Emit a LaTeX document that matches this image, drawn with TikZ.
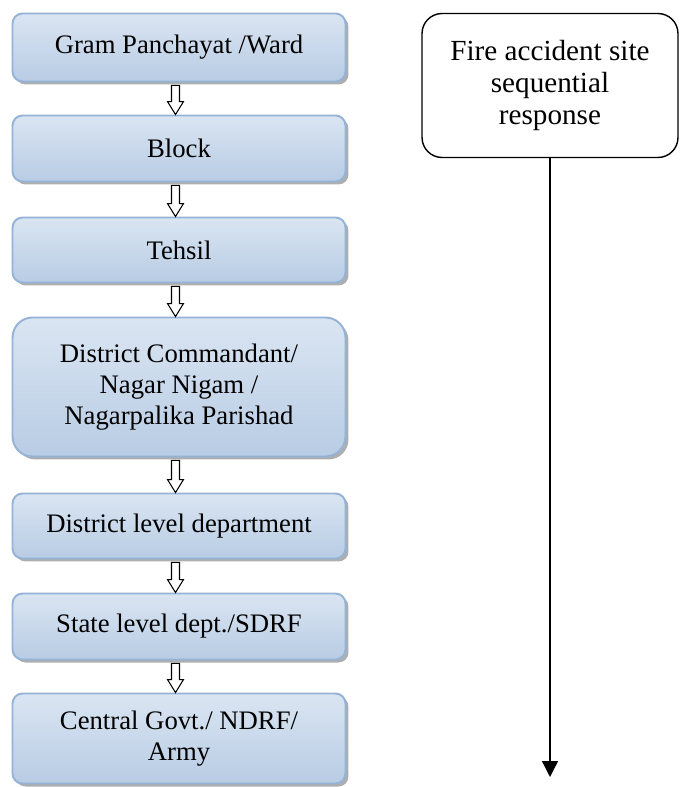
\documentclass[tikz,border=0pt]{standalone}
\usepackage{fontspec}
\setmainfont{Liberation Serif}
\usetikzlibrary{arrows.meta, calc, shadows}
\definecolor{boxline}{RGB}{149,179,215}
\definecolor{boxtop}{RGB}{218,229,242}
\definecolor{boxmid}{RGB}{240,244,250}
\definecolor{boxbot}{RGB}{184,204,228}
\newcommand{\hollowarrow}[2]{
  \draw[fill = white, line width = 0.6pt, line join = miter]
    ($(#1.south) + (-7.5, 3)$) -- ($(#2.north) + (-7.5, -13)$)
    -- ($(#2.north) + (-11.5, -13)$) -- ($(#2.north) + (-3.5, 0)$)
    -- ($(#2.north) + (4.5, -13)$) -- ($(#2.north) + (0.5, -13)$)
    -- ($(#1.south) + (0.5, 3)$) -- cycle;
}

\begin{document}
\begin{tikzpicture}[x = 0.02cm, y = -0.02cm,
  level/.style = {draw = boxline, line width = 1.1pt, rounded corners = 0.2cm,
    top color = boxtop, middle color = boxmid, bottom color = boxbot,
    drop shadow = {shadow xshift = 0.06cm, shadow yshift = -0.06cm, fill = gray!85, opacity = 0.75},
    minimum width = 6.66cm, align = center, inner sep = 0pt,
    font = \fontsize{15.2}{17.6}\selectfont},
  site/.style = {draw, line width = 0.8pt, rounded corners = 0.4cm,
    minimum width = 5.12cm, minimum height = 2.88cm, align = center,
    font = \fontsize{16.6}{18}\selectfont}]
  \useasboundingbox (0, 0) rectangle (680, 787);

  \node[level, minimum height = 1.36cm] (gram) at (179, 47.5) {Gram Panchayat /Ward};
  \node[level, minimum height = 1.32cm] (block) at (179, 148.5) {Block};
  \node[level, minimum height = 1.3cm] (tehsil) at (179, 250) {Tehsil};
  \node[level, minimum height = 2.78cm, rounded corners = 0.4cm] (district) at (179, 387)
    {District Commandant/\\Nagar Nigam /\\Nagarpalika Parishad};
  \node[level, minimum height = 1.3cm] (dept) at (179, 526) {District level department};
  \node[level, minimum height = 1.32cm] (state) at (179, 626.5) {State level dept./SDRF};
  \node[level, minimum height = 1.8cm] (central) at (179, 738.5) {Central Govt./ NDRF/\\Army};

  \hollowarrow{gram}{block}
  \hollowarrow{block}{tehsil}
  \hollowarrow{tehsil}{district}
  \hollowarrow{district}{dept}
  \hollowarrow{dept}{state}
  \hollowarrow{state}{central}

  % right hand side
  \node[site] (fire) at (550, 85.5) {Fire accident site\\sequential\\response};
  \coordinate (bottom) at (550, 777);
  \draw[line width = 0.75pt, -{Triangle[width = 0.32cm, length = 0.32cm]}] (fire) -- (bottom);
\end{tikzpicture}
\end{document}
